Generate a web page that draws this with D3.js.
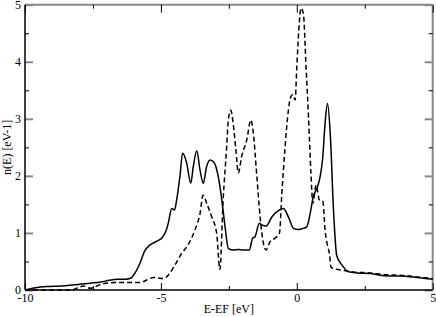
<!DOCTYPE html>
<html>
<head>
<meta charset="utf-8">
<script src="https://cdn.jsdelivr.net/npm/d3@7"></script>
<style>
  body { margin: 0; background: #fff; }
</style>
</head>
<body>
<div id="chart"></div>
<script>
// energy E-EF [eV] and density of states for the two curves
const solidE = [-10, -9.6, -9.2, -8.7, -8.2, -7.6, -7.2, -6.9, -6.6, -6.3, -6.1, -5.95, -5.77, -5.6, -5.4, -5.17, -4.95, -4.8, -4.73, -4.6, -4.5, -4.42, -4.3, -4.2, -4.05, -3.9, -3.81, -3.68, -3.56, -3.44, -3.32, -3.19, -3.05, -2.89, -2.76, -2.64, -2.52, -2.34, -2.15, -1.97, -1.75, -1.62, -1.54, -1.38, -1.29, -1.13, -0.92, -0.68, -0.49, -0.31, -0.12, 0.06, 0.24, 0.37, 0.49, 0.61, 0.74, 0.86, 0.95, 1.04, 1.13, 1.23, 1.35, 1.47, 1.66, 1.9, 2.21, 2.7, 3.19, 3.8, 4.42, 5.0];
const solidN = [0, 0.04, 0.06, 0.07, 0.09, 0.12, 0.14, 0.17, 0.19, 0.19, 0.21, 0.3, 0.47, 0.68, 0.79, 0.85, 0.92, 1.05, 1.17, 1.43, 1.40, 1.58, 1.99, 2.40, 2.22, 1.87, 2.16, 2.44, 2.1, 1.87, 2.16, 2.28, 2.24, 1.99, 1.58, 1.11, 0.73, 0.70, 0.71, 0.70, 0.70, 0.91, 0.93, 1.17, 1.14, 1.12, 1.28, 1.39, 1.43, 1.28, 1.08, 1.06, 1.08, 1.11, 1.34, 1.64, 1.78, 1.99, 2.3, 2.92, 3.27, 2.75, 1.40, 0.60, 0.44, 0.32, 0.30, 0.29, 0.25, 0.245, 0.22, 0.19];

const dashedE = [-10, -8.3, -8.0, -7.85, -7.6, -7.2, -6.7, -6.2, -5.8, -5.4, -5.28, -4.91, -4.73, -4.48, -4.24, -4.0, -3.75, -3.56, -3.45, -3.3, -3.13, -2.95, -2.83, -2.71, -2.58, -2.52, -2.43, -2.34, -2.24, -2.15, -2.03, -1.84, -1.69, -1.6, -1.47, -1.35, -1.23, -1.13, -0.98, -0.8, -0.64, -0.55, -0.43, -0.31, -0.22, -0.15, -0.06, 0, 0.1, 0.15, 0.24, 0.34, 0.43, 0.52, 0.59, 0.71, 0.83, 0.96, 1.04, 1.13, 1.2, 1.26, 1.41, 1.6, 1.9, 2.21, 2.7, 3.19, 3.8, 4.42, 5.0];
const dashedN = [0, 0, 0.05, 0.07, 0.03, 0.1, 0.13, 0.13, 0.13, 0.2, 0.22, 0.2, 0.26, 0.44, 0.64, 0.79, 1.05, 1.34, 1.66, 1.5, 1.28, 1.0, 0.36, 1.58, 2.51, 2.98, 3.15, 2.92, 2.45, 2.05, 2.34, 2.63, 2.98, 2.75, 1.99, 1.28, 0.82, 0.70, 0.85, 0.91, 0.99, 1.69, 2.51, 3.15, 3.39, 3.42, 3.33, 3.91, 4.73, 4.94, 4.85, 3.91, 3.04, 2.05, 1.52, 1.84, 1.58, 1.55, 1.05, 0.78, 0.64, 0.40, 0.37, 0.35, 0.33, 0.31, 0.30, 0.27, 0.26, 0.23, 0.2];

const xMajor = [-10, -5, 0, 5];
const xMinor = [-7.5, -2.5, 2.5];
const yMajor = [0, 1, 2, 3, 4, 5];
const yMinor = [0.5, 1.5, 2.5, 3.5, 4.5];

const width = 436, height = 317;
const m = { left: 25, right: 432.7, top: 4.7, bottom: 290 };
const serif = '"Liberation Serif", "Times New Roman", Times, serif';

const svg = d3.select('#chart').append('svg')
    .attr('width', width)
    .attr('height', height);

const x = d3.scaleLinear().domain([-10, 5]).range([m.left, m.right]);
const y = d3.scaleLinear().domain([0, 5]).range([m.bottom, m.top]);

// frame: top and right drawn grey, left and bottom black
svg.append('line').attr('x1', m.left).attr('x2', m.right).attr('y1', m.top).attr('y2', m.top)
    .attr('stroke', '#888').attr('stroke-width', 2);
svg.append('line').attr('x1', m.right).attr('x2', m.right).attr('y1', m.top).attr('y2', m.bottom)
    .attr('stroke', '#888').attr('stroke-width', 2);

// bottom axis with labels
const xAxis = svg.append('g').attr('transform', `translate(0,${m.bottom})`)
    .call(d3.axisBottom(x).tickValues(xMajor).tickSize(-7).tickPadding(3).tickFormat(d => String(d)));
xAxis.select('.domain').remove();
xAxis.selectAll('text').style('font-family', serif).style('font-size', '12px').attr('fill', '#000');
svg.append('g').attr('transform', `translate(0,${m.bottom})`)
    .call(d3.axisBottom(x).tickValues(xMinor).tickSize(-4).tickFormat(''))
    .select('.domain').remove();

// top ticks
svg.append('g').attr('transform', `translate(0,${m.top})`)
    .call(d3.axisTop(x).tickValues(xMajor).tickSize(-8).tickFormat(''))
    .select('.domain').remove();
svg.append('g').attr('transform', `translate(0,${m.top})`)
    .call(d3.axisTop(x).tickValues(xMinor).tickSize(-4).tickFormat(''))
    .select('.domain').remove();

// left axis
const yAxis = svg.append('g').attr('transform', `translate(${m.left},0)`)
    .call(d3.axisLeft(y).tickValues(yMajor).tickSize(-8).tickPadding(4).tickFormat(d => String(d)));
yAxis.select('.domain').remove();
yAxis.selectAll('.tick line').attr('stroke', '#888').attr('stroke-width', 2);
yAxis.selectAll('text').style('font-family', serif).style('font-size', '12px').attr('fill', '#000');
svg.append('g').attr('transform', `translate(${m.left},0)`)
    .call(d3.axisLeft(y).tickValues(yMinor).tickSize(-4).tickFormat(''))
    .select('.domain').remove();

// right ticks
const yRight = svg.append('g').attr('transform', `translate(${m.right},0)`)
    .call(d3.axisRight(y).tickValues(yMajor).tickSize(-8).tickFormat(''));
yRight.select('.domain').remove();
yRight.selectAll('.tick line').attr('stroke', '#888').attr('stroke-width', 2);
svg.append('g').attr('transform', `translate(${m.right},0)`)
    .call(d3.axisRight(y).tickValues(yMinor).tickSize(-4).tickFormat(''))
    .select('.domain').remove();

// left and bottom axis lines
svg.append('line').attr('x1', m.left).attr('x2', m.left).attr('y1', m.top).attr('y2', m.bottom)
    .attr('stroke', '#000').attr('stroke-width', 1.5);
svg.append('line').attr('x1', m.left).attr('x2', m.right).attr('y1', m.bottom).attr('y2', m.bottom)
    .attr('stroke', '#000').attr('stroke-width', 1.5);

// curves
const line = d3.line().curve(d3.curveMonotoneX).x(d => x(d[0])).y(d => y(d[1]));
const solid = solidE.map((e, i) => [e, solidN[i]]);
const dashed = dashedE.map((e, i) => [e, dashedN[i]]);

svg.append('path').datum(dashed).attr('fill', 'none').attr('stroke', '#000')
    .attr('stroke-width', 1.5).attr('stroke-dasharray', '5,3').attr('d', line);
svg.append('path').datum(solid).attr('fill', 'none').attr('stroke', '#000')
    .attr('stroke-width', 1.5).attr('d', line);

// axis titles
svg.append('text').attr('x', (m.left + m.right) / 2).attr('y', 313)
    .attr('text-anchor', 'middle').style('font-family', serif).style('font-size', '12px')
    .text('E-EF [eV]');
svg.append('text').attr('transform', `translate(10.5,${(m.top + m.bottom) / 2}) rotate(-90)`)
    .attr('text-anchor', 'middle').style('font-family', serif).style('font-size', '12px')
    .text('n(E) [eV-1]');
</script>
</body>
</html>
